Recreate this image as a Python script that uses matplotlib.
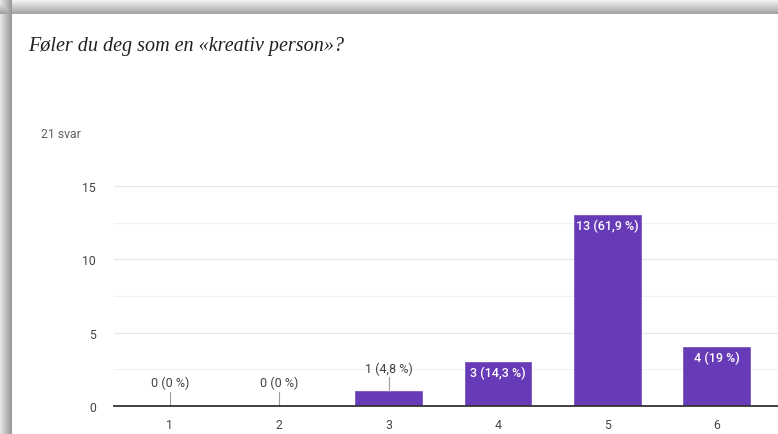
import numpy as np
import matplotlib.pyplot as plt

categories = ["1", "2", "3", "4", "5", "6"]
counts = [0, 0, 1, 3, 13, 4]
labels = ["0 (0 %)", "0 (0 %)", "1 (4,8 %)", "3 (14,3 %)", "13 (61,9 %)", "4 (19 %)"]
title = "Føler du deg som en «kreativ person»?"
responses = "21 svar"

W, H = 778, 435
fig = plt.figure(figsize=(W / 100, H / 100), dpi=100)

# screenshot shadow along the top and left edge of the card
bg = fig.add_axes([0, 0, 1, 1])
rows = np.arange(H)[:, None] * np.ones((1, W))
cols = np.ones((H, 1)) * np.arange(W)[None, :]
shade = np.ones((H, W))
top = rows < 15
shade[top] = 0.97 - 0.33 * rows[top] / 14
left = cols < 12
shade[left] = np.minimum(shade[left], 0.9 - 0.3 * cols[left] / 11)
bg.imshow(np.dstack([shade] * 3), aspect="auto", interpolation="bilinear")
bg.axis("off")

fig.text(28 / W, 1 - 47 / H, title, family="Liberation Serif", style="italic",
         fontsize=14.5, color="#212121", va="center", ha="left")
fig.text(41 / W, 1 - 134 / H, responses, family="Roboto", fontsize=8.8,
         color="#616161", va="center", ha="left")

ax = fig.add_axes([114 / W, 28 / H, 1 - 114 / W, (407 - 187) / H])
x = np.arange(1, len(categories) + 1)
ax.bar(x, counts, width=0.61, color="#673ab7", edgecolor="#7e57c2",
       linewidth=0.6, zorder=3)

for xi, c, lab in zip(x, counts, labels):
    if c >= 3:
        ax.text(xi, c - 0.72, lab, ha="center", va="center", color="white",
                family="Roboto", fontsize=9, fontweight="medium", zorder=5)
    else:
        ax.plot([xi, xi], [c, c + 0.95], color="#9e9e9e", lw=0.8, zorder=4,
                clip_on=False)
        ax.text(xi, c + 1.6, lab, ha="center", va="center", color="#424242",
                family="Roboto", fontsize=9, zorder=5)

ax.set_xlim(0.49, 6.56)
ax.set_ylim(0, 15)
ax.set_yticks([0, 5, 10, 15])
ax.set_yticks([2.5, 7.5, 12.5], minor=True)
ax.set_xticks(x)
ax.set_xticklabels(categories)
ax.grid(axis="y", which="major", color="#e6e6e6", lw=0.8, zorder=0)
ax.grid(axis="y", which="minor", color="#f1f1f1", lw=0.8, zorder=0)
ax.tick_params(which="both", length=0)
ax.tick_params(axis="y", pad=13, labelsize=8.8, labelcolor="#444444")
ax.tick_params(axis="x", pad=9, labelsize=8.8, labelcolor="#444444")
for lab in ax.get_xticklabels() + ax.get_yticklabels():
    lab.set_family("Roboto")
for s in ["top", "right", "left"]:
    ax.spines[s].set_visible(False)
ax.spines["bottom"].set_color("#333333")
ax.spines["bottom"].set_linewidth(1.3)
ax.spines["bottom"].set_zorder(6)
ax.patch.set_alpha(0)

fig.savefig("out.png", dpi=100)
plt.close(fig)
